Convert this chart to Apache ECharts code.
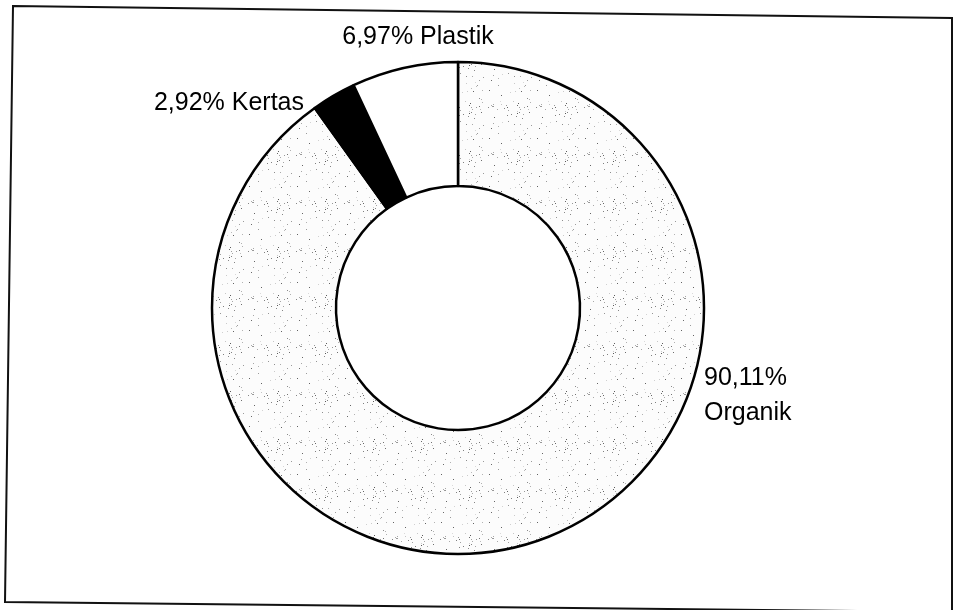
<!DOCTYPE html>
<html>
<head>
<meta charset="utf-8">
<script src="https://cdn.jsdelivr.net/npm/echarts@6/dist/echarts.min.js"></script>
<style>
  html, body { margin: 0; padding: 0; background: #fff; }
  #chart { width: 953px; height: 610px; }
</style>
</head>
<body>
<div id="chart"></div>
<script>
const categories = ['Organik', 'Kertas', 'Plastik'];
const values = [90.11, 2.92, 6.97];
// text between the percentage and the name
const separators = ['\n', ' ', ' '];

// speckled texture for the organic slice (scanned grey dots)
function speckle() {
  const c = document.createElement('canvas');
  c.width = 48; c.height = 48;
  const ctx = c.getContext('2d');
  ctx.fillStyle = '#fcfcfc';
  ctx.fillRect(0, 0, 48, 48);
  let s = 7;
  const next = () => { s = (s * 1103515245 + 12345) % 2147483648; return s / 2147483648; };
  for (let i = 0; i < 55; i++) {
    const x = Math.floor(next() * 48), y = Math.floor(next() * 48);
    const g = Math.floor(90 + next() * 130);
    ctx.fillStyle = 'rgb(' + g + ',' + g + ',' + g + ')';
    ctx.fillRect(x, y, 1, 1);
  }
  return c;
}

const fills = [{ image: speckle(), repeat: 'repeat' }, '#000000', '#ffffff'];
const labelSpots = [
  { x: 704, y: 396, align: 'left' },
  { x: 304, y: 103, align: 'right' },
  { x: 418, y: 37, align: 'center' }
];

const chart = echarts.init(document.getElementById('chart'));
const option = {
  backgroundColor: '#ffffff',
  animation: false,
  graphic: [{
    type: 'polygon',
    shape: { points: [[13, 6], [952, 18], [952, 612], [5, 602]] },
    style: { fill: 'none', stroke: '#111', lineWidth: 2 },
    silent: true
  }],
  series: [{
    type: 'pie',
    center: [458, 308],
    radius: [122, 246],
    startAngle: 90,
    clockwise: true,
    avoidLabelOverlap: false,
    data: categories.map((name, i) => ({
      name: name,
      value: values[i],
      itemStyle: { color: fills[i] }
    })),
    itemStyle: { borderColor: '#000', borderWidth: 2.5 },
    label: {
      show: true,
      position: 'outside',
      fontFamily: 'Liberation Sans, Arial, sans-serif',
      fontSize: 25,
      lineHeight: 35,
      color: '#000',
      formatter: p => p.value.toFixed(2).replace('.', ',') + '%' + separators[p.dataIndex] + p.name
    },
    labelLine: { show: false },
    labelLayout: p => {
      const s = labelSpots[p.dataIndex];
      return { x: s.x, y: s.y, align: s.align, verticalAlign: 'middle' };
    },
    emphasis: { disabled: true }
  }]
};
chart.setOption(option);
</script>
</body>
</html>
